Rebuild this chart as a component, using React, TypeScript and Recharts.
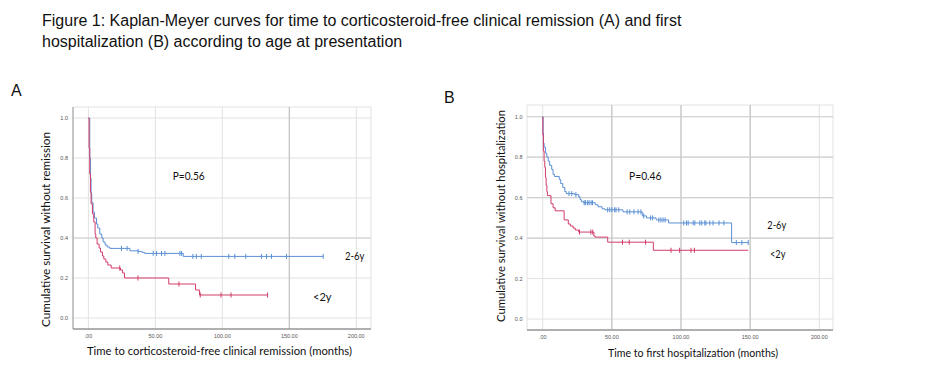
import React from 'react';
import { LineChart, Line, XAxis, YAxis, CartesianGrid, ReferenceLine } from 'recharts';

// ---------- Panel A: time to corticosteroid-free clinical remission ----------
// step points: time (months), survival after that time, censored flag
const aOlderT = [0, 1, 1.5, 2, 2.5, 3.5, 4.5, 6, 7, 8.5, 10, 11, 12.5, 14, 16, 24.7, 28.9, 31, 37.1, 40, 42, 48.4, 50.9, 54.6, 57.1, 68.3, 69.6, 70.8, 78, 80.6, 84.3, 104.8, 109.3, 117.5, 129.2, 133, 136.7, 147.9, 175.3];
const aOlderS = [1.0, 0.8, 0.7, 0.62, 0.577, 0.53, 0.5, 0.47, 0.45, 0.42, 0.4, 0.38, 0.365, 0.355, 0.348, 0.348, 0.348, 0.336, 0.333, 0.328, 0.323, 0.323, 0.323, 0.323, 0.323, 0.323, 0.323, 0.308, 0.308, 0.308, 0.308, 0.308, 0.308, 0.308, 0.308, 0.308, 0.308, 0.308, 0.308];
const aOlderC = [0, 0, 0, 0, 0, 0, 0, 0, 0, 0, 0, 0, 0, 0, 0, 1, 1, 0, 1, 0, 0, 1, 1, 1, 1, 1, 1, 0, 1, 1, 1, 1, 1, 1, 1, 1, 1, 1, 1];

const aYoungT = [0, 0.5, 1, 1.5, 2, 3, 4, 5, 5.5, 6.5, 8, 9, 10.5, 11.5, 13, 14.5, 17, 23.4, 24, 25.5, 27, 37, 60, 67.6, 80, 83, 83.5, 99, 106.5, 133.7];
const aYoungS = [1.0, 0.85, 0.72, 0.63, 0.57, 0.52, 0.48, 0.42, 0.4, 0.37, 0.35, 0.33, 0.31, 0.295, 0.28, 0.265, 0.25, 0.25, 0.24, 0.225, 0.2, 0.2, 0.17, 0.17, 0.14, 0.115, 0.115, 0.115, 0.115, 0.115];
const aYoungC = [0, 0, 0, 0, 0, 0, 0, 0, 0, 0, 0, 0, 0, 0, 0, 0, 0, 1, 0, 0, 0, 1, 0, 1, 0, 0, 1, 1, 1, 1];

// ---------- Panel B: time to first hospitalization ----------
const bOlderT = [0, 0.3, 0.5, 1, 2, 3, 4, 5, 6.5, 7.5, 8.5, 12, 13, 14.5, 16, 17, 19, 21, 23, 24, 26, 27, 28, 29.5, 30, 31, 32.5, 33.5, 35, 36, 38, 40, 43, 45, 47, 48.5, 50, 52, 53, 55, 58, 61, 63, 66, 69, 71, 72, 73, 75, 78, 79.5, 82, 84, 85.5, 87, 88.5, 91, 102, 104, 105.2, 108.8, 110, 113.6, 115, 117.2, 118, 120.8, 123.2, 127.5, 131, 136.6, 140, 144, 148.6];
const bOlderS = [1.0, 0.92, 0.87, 0.85, 0.82, 0.8, 0.78, 0.76, 0.74, 0.715, 0.705, 0.69, 0.67, 0.65, 0.63, 0.62, 0.62, 0.62, 0.615, 0.615, 0.605, 0.59, 0.58, 0.575, 0.575, 0.575, 0.575, 0.575, 0.575, 0.575, 0.565, 0.555, 0.545, 0.54, 0.54, 0.54, 0.54, 0.54, 0.54, 0.54, 0.53, 0.53, 0.53, 0.53, 0.53, 0.53, 0.51, 0.51, 0.5, 0.5, 0.5, 0.49, 0.49, 0.49, 0.49, 0.49, 0.475, 0.475, 0.475, 0.475, 0.475, 0.475, 0.475, 0.475, 0.475, 0.475, 0.475, 0.475, 0.475, 0.475, 0.378, 0.378, 0.378, 0.378];
const bOlderC = [0, 0, 0, 0, 0, 0, 0, 0, 0, 0, 0, 0, 0, 0, 0, 0, 1, 1, 0, 1, 0, 0, 0, 0, 1, 1, 1, 1, 1, 1, 0, 0, 0, 0, 1, 1, 1, 1, 1, 1, 0, 1, 1, 1, 1, 1, 0, 1, 0, 1, 1, 0, 1, 1, 1, 1, 0, 1, 1, 1, 1, 1, 1, 1, 1, 1, 1, 1, 1, 1, 0, 1, 1, 1];

const bYoungT = [0, 0.1, 0.5, 1, 1.5, 2, 2.5, 3, 3.4, 6, 7.5, 9, 15.5, 18.5, 20, 22, 23.5, 26, 26.6, 34.8, 36.2, 37, 38, 47, 57.7, 62.6, 74.4, 80, 92.8, 99, 107.2, 109.7, 148.6];
const bYoungS = [1.0, 0.91, 0.83, 0.78, 0.75, 0.7, 0.66, 0.63, 0.61, 0.57, 0.55, 0.535, 0.49, 0.47, 0.46, 0.45, 0.44, 0.43, 0.43, 0.43, 0.43, 0.41, 0.405, 0.38, 0.38, 0.38, 0.38, 0.34, 0.34, 0.34, 0.34, 0.34, 0.34];
const bYoungC = [0, 0, 0, 0, 0, 0, 0, 0, 0, 0, 0, 0, 0, 0, 0, 0, 0, 0, 1, 1, 1, 0, 0, 0, 1, 1, 1, 0, 1, 1, 1, 1, 0];

const xTicks = [0, 50, 100, 150, 200];
const yTicks = [0, 0.2, 0.4, 0.6, 0.8, 1.0];

const build = (t: number[], s: number[], c: number[]) => t.map((v, i) => ({ t: v, s: s[i], c: c[i] }));

const BLUE = '#5b8fd4';
const RED = '#d23c68';

const censorDot = (color: string) => (props: any) => {
  const { cx, cy, payload, index } = props;
  if (!payload || !payload.c || cx == null || cy == null) return <g key={`d${index}`} />;
  return <line key={`d${index}`} x1={cx} x2={cx} y1={cy - 2.5} y2={cy + 2.5} stroke={color} strokeWidth={1} />;
};

const xFmt = (v: number) => (v === 0 ? '.00' : v.toFixed(2));
const yFmt = (v: number) => v.toFixed(1);
const tickStyle = { fontSize: 5.5, fill: '#555', fontFamily: 'Liberation Sans, Arial, sans-serif' };

interface PanelProps {
  left: number;
  margin: { top: number; right: number; bottom: number; left: number };
  xDomain: [number, number];
  yDomain: [number, number];
  yTickMargin: number;
  xTickMargin: number;
  showYLine: boolean;
  older: any[];
  young: any[];
  darkX: number[];
  darkY: number[];
}

const Panel = (p: PanelProps) => (
  <div style={{ position: 'absolute', left: p.left, top: 0 }}>
    <LineChart width={469} height={390} margin={p.margin}>
      <CartesianGrid stroke="#e2e2e2" strokeWidth={1} />
      {p.darkX.map((v) => (
        <ReferenceLine key={`rx${v}`} x={v} stroke="#bdbdbd" strokeWidth={1} />
      ))}
      {p.darkY.map((v) => (
        <ReferenceLine key={`ry${v}`} y={v} stroke="#cfcfcf" strokeWidth={1.2} />
      ))}
      <XAxis
        type="number"
        dataKey="t"
        domain={p.xDomain}
        ticks={xTicks}
        tickFormatter={xFmt}
        allowDataOverflow
        height={20}
        tickSize={0}
        tickMargin={p.xTickMargin}
        tick={tickStyle}
        axisLine={{ stroke: '#9a9a9a', strokeWidth: 1.5 }}
        tickLine={false}
      />
      <YAxis
        type="number"
        dataKey="s"
        domain={p.yDomain}
        ticks={yTicks}
        tickFormatter={yFmt}
        allowDataOverflow
        width={30}
        tickSize={0}
        tickMargin={p.yTickMargin}
        tick={tickStyle}
        axisLine={p.showYLine ? { stroke: '#9a9a9a', strokeWidth: 1 } : false}
        tickLine={false}
      />
      <Line
        data={p.older}
        dataKey="s"
        type="stepAfter"
        stroke={BLUE}
        strokeWidth={1}
        dot={censorDot(BLUE)}
        activeDot={false}
        isAnimationActive={false}
      />
      <Line
        data={p.young}
        dataKey="s"
        type="stepAfter"
        stroke={RED}
        strokeWidth={1}
        dot={censorDot(RED)}
        activeDot={false}
        isAnimationActive={false}
      />
    </LineChart>
  </div>
);

const LBL = 'Lato, "Open Sans", sans-serif';

export default function App() {
  return (
    <div style={{ position: 'absolute', left: 0, top: 0, width: 938, height: 390, background: '#fff', overflow: 'hidden' }}>
      <Panel
        left={0}
        margin={{ top: 107, right: 98, bottom: 41, left: 43 }}
        xDomain={[-11.5, 211]}
        yDomain={[-0.055, 1.055]}
        yTickMargin={5}
        xTickMargin={5}
        showYLine={true}
        older={build(aOlderT, aOlderS, aOlderC)}
        young={build(aYoungT, aYoungS, aYoungC)}
        darkX={[150]}
        darkY={[0.4]}
      />
      <Panel
        left={469}
        margin={{ top: 105, right: 105, bottom: 40, left: 28 }}
        xDomain={[-11.35, 209.9]}
        yDomain={[-0.054, 1.058]}
        yTickMargin={4.5}
        xTickMargin={5.5}
        showYLine={false}
        older={build(bOlderT, bOlderS, bOlderC)}
        young={build(bYoungT, bYoungS, bYoungC)}
        darkX={[50, 100, 150]}
        darkY={[1.0, 0.8, 0.6, 0.4]}
      />
      <svg width={938} height={390} style={{ position: 'absolute', left: 0, top: 0, pointerEvents: 'none' }}>
        <g fontFamily="Liberation Sans, Arial, sans-serif" fontSize={16} fill="#111">
          <text x={42} y={26}>Figure 1: Kaplan-Meyer curves for time to corticosteroid-free clinical remission (A) and first</text>
          <text x={42} y={47}>hospitalization (B) according to age at presentation</text>
          <text x={11} y={96}>A</text>
          <text x={444} y={103}>B</text>
        </g>
        <g fontFamily={LBL} fill="#111">
          <text x={46} y={229.5} fontSize={10.5} textAnchor="middle" dominantBaseline="central" transform="rotate(-90 46 229.5)" textLength={195} lengthAdjust="spacingAndGlyphs">Cumulative survival without remission</text>
          <text x={87} y={355} fontSize={10.5} textLength={265} lengthAdjust="spacingAndGlyphs">Time to corticosteroid-free clinical remission (months)</text>
          <text x={500.7} y={216} fontSize={10.5} textAnchor="middle" dominantBaseline="central" transform="rotate(-90 500.7 216)" textLength={212} lengthAdjust="spacingAndGlyphs">Cumulative survival without hospitalization</text>
          <text x={608} y={357} fontSize={10.5} textLength={170} lengthAdjust="spacingAndGlyphs">Time to first hospitalization (months)</text>
          <text x={172.7} y={180} fontSize={11} textLength={32} lengthAdjust="spacingAndGlyphs">P=0.56</text>
          <text x={629} y={180} fontSize={11} textLength={32.5} lengthAdjust="spacingAndGlyphs">P=0.46</text>
          <text x={345} y={259.5} fontSize={11} textLength={19.5} lengthAdjust="spacingAndGlyphs">2-6y</text>
          <text x={313} y={300.5} fontSize={11} textLength={18.5} lengthAdjust="spacingAndGlyphs">&lt;2y</text>
          <text x={767.3} y={229} fontSize={11} textLength={19} lengthAdjust="spacingAndGlyphs">2-6y</text>
          <text x={770} y={258} fontSize={11} textLength={15.5} lengthAdjust="spacingAndGlyphs">&lt;2y</text>
        </g>
      </svg>
    </div>
  );
}
